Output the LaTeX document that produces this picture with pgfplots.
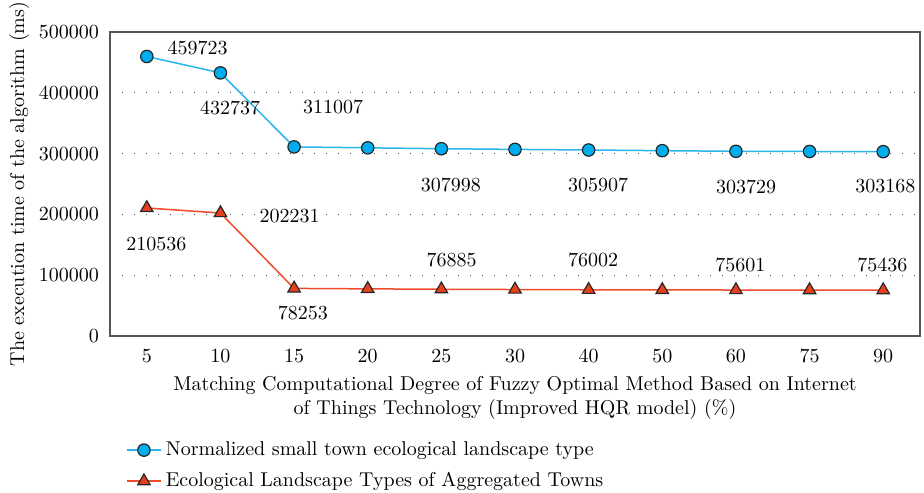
\documentclass[border=0pt]{standalone}
\usepackage{pgfplots}
\pgfplotsset{compat=1.18}
\definecolor{bline}{HTML}{29B6EA}
\definecolor{bfill}{HTML}{00AEEF}
\definecolor{rline}{HTML}{EE4B2B}
\definecolor{rfill}{HTML}{E8401C}
\definecolor{boxc}{HTML}{555555}
\begin{document}
\begin{tikzpicture}
\begin{axis}[name=ax, scale only axis, width=405pt, height=152pt,
  xmin=-0.5, xmax=10.5, ymin=0, ymax=500000,
  xtick={0,...,10}, xticklabels={5,10,15,20,25,30,40,50,60,75,90},
  ytick={0,100000,200000,300000,400000,500000},
  scaled y ticks=false,
  yticklabel style={/pgf/number format/fixed,/pgf/number format/1000 sep={},xshift=-2pt},
  xticklabel style={yshift=-3pt},
  tick style={draw=none},
  axis line style={boxc, line width=0.9pt},
  ymajorgrids, grid style={boxc, line width=0.6pt, dash pattern=on 0.6pt off 5.4pt},
  xlabel={Matching Computational Degree of Fuzzy Optimal Method Based on Internet\\of Things Technology (Improved HQR model) (\%)},
  xlabel style={align=center},
  ylabel={The execution time of the algorithm (ms)},
  ylabel style={yshift=-2pt},
  legend style={at={(0.012,-0.32)}, anchor=north west, draw=none, row sep=3pt, font=\normalsize},
  legend cell align=left,
  clip=false,
]
\addplot[color=bline, line width=0.75pt, mark=*, mark size=3.1pt, mark options={fill=bfill, draw=black!85, line width=0.6pt}]
  coordinates {(0,459723) (1,432737) (2,311007) (3,309500) (4,307998) (5,306900) (6,305907) (7,304800) (8,303729) (9,303450) (10,303168)};
\addlegendentry{Normalized small town ecological landscape type}
\addplot[color=rline, line width=0.75pt, mark=triangle*, mark size=3.6pt, mark options={fill=rfill, draw=black!85, line width=0.6pt}]
  coordinates {(0,210536) (1,202231) (2,78253) (3,77500) (4,76885) (5,76400) (6,76002) (7,75800) (8,75601) (9,75500) (10,75436)};
\addlegendentry{Ecological Landscape Types of Aggregated Towns}
\node at (axis cs:0.69,473684) {459723};
\node at (axis cs:1.13,375000) {432737};
\node at (axis cs:2.53,376645) {311007};
\node at (axis cs:4.13,249178) {307998};
\node at (axis cs:6.13,248355) {305907};
\node at (axis cs:8.14,245888) {303729};
\node at (axis cs:10.03,245888) {303168};
\node at (axis cs:0.13,150493) {210536};
\node at (axis cs:1.94,196546) {202231};
\node at (axis cs:2.12,38651) {78253};
\node at (axis cs:4.14,125000) {76885};
\node at (axis cs:6.06,125000) {76002};
\node at (axis cs:8.06,116776) {75601};
\node at (axis cs:9.99,116776) {75436};
\end{axis}
\pgfresetboundingbox
\path[use as bounding box] ([xshift=-55pt,yshift=-78.5pt]ax.south west) rectangle ([xshift=2pt,yshift=16pt]ax.north east);
\end{tikzpicture}
\end{document}
